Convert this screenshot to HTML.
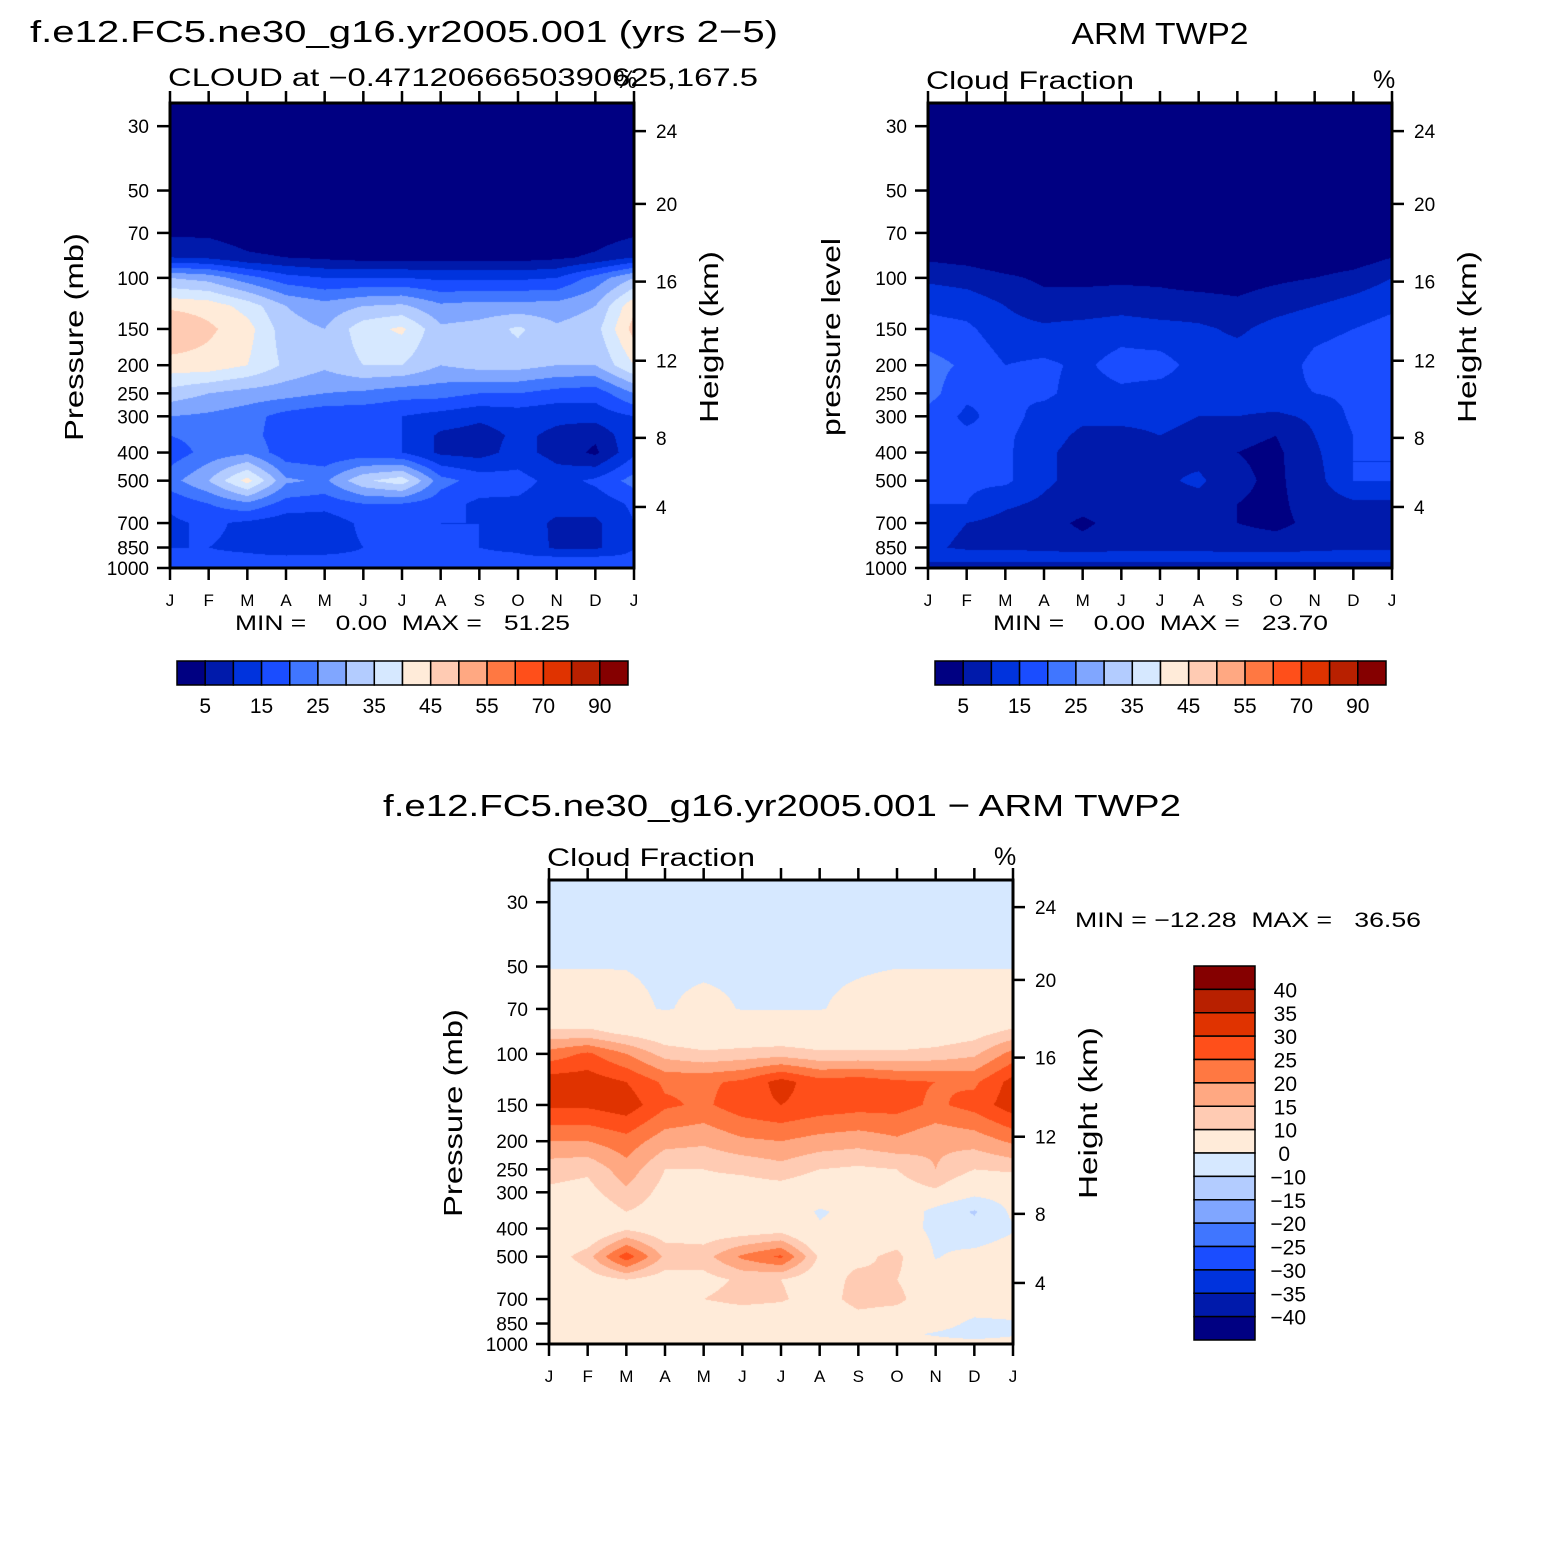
<!DOCTYPE html>
<html><head><meta charset="utf-8">
<style>
html,body{margin:0;padding:0;background:#fff;}
#wrap{position:relative;width:1563px;height:1563px;overflow:hidden;font-family:"Liberation Sans",sans-serif;}
canvas{position:absolute;}
svg{position:absolute;left:0;top:0;}
svg text{white-space:pre;}
</style></head>
<body>
<div id="wrap">
<canvas id="c1" width="464" height="465" style="left:170px;top:103px"></canvas>
<canvas id="c2" width="464" height="465" style="left:928px;top:103px"></canvas>
<canvas id="c3" width="464" height="464" style="left:549px;top:880px"></canvas>
<svg id="s" width="1563" height="1563"></svg>
</div>
<script>
// ---- data ----
const months = ["J","F","M","A","M","J","J","A","S","O","N","D","J"];
const pressures = [30,50,70,85,100,125,150,200,250,300,350,400,500,600,700,850,925,1000];
const pressureTicks = [30,50,70,100,150,200,250,300,400,500,700,850,1000];
const heightTicks = [24,20,16,12,8,4];
const heightTickPressure = [31.2,55.6,103,193,356,616];
const modelData = [
[0,0,0,0,0,0,0,0,0,0,0,0,0],
[0.5,0.5,0.5,0.5,0.5,0.5,0.5,0.5,0.5,0.5,0.5,0.5,0.5],
[4,4,2,1,1,1,1,1,1,1,1,2,4],
[10,9,6,5,4,3,3,3,3,3,4,6,10],
[30,28,22,17,15,15,15,14,14,14,15,22,30],
[44,43,38,30,27,30,31,26,27,27,27,30,44],
[50,46,42,32,30,38,41,31,32,36,31,33,47],
[43,43,40,34,31,35,35,30,32,32,30,30,40],
[33,30,28,27,25,24,22,22,20,20,18,17,25],
[25,24,22,18,16,16,15,13,11,12,11,12,15],
[20,22,22,17,16,16,15,9,8,11,9,6,14],
[17,22,24,17,16,17,15,9,8,12,8,4,14],
[23,30,42,26,24,34,38,22,18,17,13,16,22],
[16,20,24,18,17,20,20,17,14,14,12,12,16],
[14,16,14,12,12,16,16,15,15,13,9,9,15],
[15,15,14,12,13,15,15,15,15,14,9,9,15],
[16,16,16,16,16,16,16,16,16,16,16,16,16],
[18,18,18,18,18,18,18,18,18,18,18,18,18]];
const obsData = [
[0,0,0,0,0,0,0,0,0,0,0,0,0],
[0,0,0,0,0,0,0,0,0,0,0,0,0],
[0.5,0.5,0.5,0.5,0.5,0.5,0.5,0.5,0.5,0.5,0.5,0.5,0.5],
[4,3,1,1,1,1,1,1,1,1,1,2,5],
[9,8,6,4,4,4,4,3,3,4,5,7,10],
[14,13,10,7,7,8,7,7,6,8,10,12,14],
[17,16,12,11,12,13,12,11,9,12,14,15,17],
[22,19,15,16,14,17,17,13,13,13,16,17,20],
[22,16,15,16,13,14,13,12,13,14,15,16,19],
[18,14,17,13,11,11,11,10,10,9,11,16,17],
[17,16,16,12,9,9,10,9,6,5,10,15,16],
[17,16,16,11,8,8,9,8,5,4,9,15,15],
[17,16,16,11,8,8,9,11,6,4,8,15,15],
[15,15,11,9,7,8,8,8,5,4,7,9,9],
[12,10,8,7,4,7,5,7,5,4,6,8,8],
[11,9,9,8,7,8,8,8,7,7,8,9,9],
[14,14,14,14,14,14,14,14,14,14,14,14,14],
[4,4,4,4,4,4,4,4,4,4,4,4,4]];
const diffData = [
[-1,-1,-1,-1,-1,-1,-1,-1,-1,-1,-1,-1,-1],
[-0.1,-0.1,-0.1,-0.6,-0.6,-0.6,-0.6,-0.6,-0.4,-0.1,-0.1,-0.1,-0.1],
[2,2,1,-0.3,1,-0.2,-0.2,-0.2,1,2,2,2,2],
[12,12,9,6,5,5,5,5,5,5,6,8,12],
[22,26,20,13,11,12,13,11,11,11,12,14,22],
[33,33,30,24,24,26,32,27,28,26,25,24,32],
[31,31,33,26,24,28,30,28,27,27,24,27,33],
[20,20,23,17,16,19,20,18,17,19,16,17,21],
[12,11,18,10,10,11,13,10,9,10,15,10,11],
[9,8,14,8,8,7,7,5,4,7,9,3,4],
[5,5,10,7,7,6,6,-1,3,7,-3,-11,2],
[3,3,9,6,6,6,7,1,3,4,-2,-7,-1],
[6,13,28,14,13,21,26,9,8,12,-0.5,3,6],
[4,7,10,7,8,11,10,6,12,10,4,4,4],
[3,4,5,7,10,12,11,6,13,12,4,3,3],
[2,2,2,3,4,4,3,3,6,4,2,-1,-0.5],
[1,1,1,1,1,1,1,1,1,1,-0.5,-2,-0.5],
[2,2,2,2,2,2,2,2,2,2,2,2,2]];
const cloudLevels = [5,10,15,20,25,30,35,40,45,50,55,60,70,80,90];
const cloudLabels = ["5","15","25","35","45","55","70","90"];
const diffLevels = [-40,-35,-30,-25,-20,-15,-10,0,10,15,20,25,30,35,40];
const diffLabels = ["40","35","30","25","20","15","10","0","\u221210","\u221215","\u221220","\u221225","\u221230","\u221235","\u221240"];
const palette = ['#000082','#001aab','#0033dd','#1a4dff','#4076ff','#80a6ff','#b3ccff','#d6e8ff','#ffebd9','#ffcbb3','#ffa882','#ff7842','#ff4f1a','#e03300','#b82000','#850000'];

// ---- helpers ----
const NS="http://www.w3.org/2000/svg";
const svg=document.getElementById('s');
function el(tag,attrs,parent){const e=document.createElementNS(NS,tag);for(const k in attrs)e.setAttribute(k,attrs[k]);(parent||svg).appendChild(e);return e;}
function txt(str,x,y,size,anchor,name,extra){const t=el('text',Object.assign({x:x,y:y,'font-size':size,'text-anchor':anchor||'start','font-family':'Liberation Sans, sans-serif',fill:'#000'},extra||{}));t.textContent=str;


return t;}
function hex(c){return [parseInt(c.slice(1,3),16),parseInt(c.slice(3,5),16),parseInt(c.slice(5,7),16)];}
const rgb=palette.map(hex);
function colorIdx(v,levels){let i=0;while(i<levels.length&&v>=levels[i])i++;return i;}

function makeScales(left,top,w,h){
  const bottom=top+h;const k=126;
  return {x:m=>left+m*w/12,y:p=>bottom-k*Math.log(1000/p),left,top,w,h,bottom};
}
function drawField(canvasId,data,levels,sc){
  const cv=document.getElementById(canvasId);const ctx=cv.getContext('2d');
  const W=cv.width,H=cv.height;const img=ctx.createImageData(W,H);
  const lp=pressures.map(p=>sc.y(p)-sc.top);
  for(let py=0;py<H;py++){
    const yy=py+0.5;let r=0;
    while(r<lp.length-2&&lp[r+1]<yy)r++;
    let ty=(yy-lp[r])/(lp[r+1]-lp[r]);ty=Math.max(0,Math.min(1,ty));
    for(let px=0;px<W;px++){
      const mx=(px+0.5)/W*12;let c=Math.min(11,Math.floor(mx));const tx=mx-c;
      const v=(data[r][c]*(1-tx)+data[r][c+1]*tx)*(1-ty)+(data[r+1][c]*(1-tx)+data[r+1][c+1]*tx)*ty;
      const col=rgb[colorIdx(v,levels)];const o=(py*W+px)*4;
      img.data[o]=col[0];img.data[o+1]=col[1];img.data[o+2]=col[2];img.data[o+3]=255;
    }
  }
  ctx.putImageData(img,0,0);
}
function drawAxes(sc,prefix){
  const g=el('g',{});
  
  
  el('rect',{x:sc.left,y:sc.top,width:sc.w,height:sc.h,fill:'none',stroke:'#000','stroke-width':3},g);
  months.forEach((m,i)=>{
    const x=sc.x(i);
    el('line',{x1:x,y1:sc.bottom,x2:x,y2:sc.bottom+12,stroke:'#000','stroke-width':2.5},g);
    el('line',{x1:x,y1:sc.top,x2:x,y2:sc.top-12,stroke:'#000','stroke-width':2.5},g);
    txt(m,x,sc.bottom+38,17,'middle',prefix+'-month-label');
  });
  pressureTicks.forEach(p=>{
    const y=sc.y(p);
    el('line',{x1:sc.left,y1:y,x2:sc.left-13,y2:y,stroke:'#000','stroke-width':2.5},g);
    txt(String(p),sc.left-21,y+7,19,'end',prefix+'-pressure-tick-label');
  });
  heightTicks.forEach((h,i)=>{
    const y=sc.y(heightTickPressure[i]);
    el('line',{x1:sc.x(12),y1:y,x2:sc.x(12)+12,y2:y,stroke:'#000','stroke-width':2.5},g);
    txt(String(h),sc.x(12)+22,y+7,19,'start',prefix+'-height-tick-label');
  });
}
function rotText(str,cx,cy,size,len,name){
  return txt(str,cx,cy,size,'middle',name,{transform:`rotate(-90 ${cx} ${cy})`,textLength:len,lengthAdjust:'spacingAndGlyphs'});
}

// ---- panels ----
const s1=makeScales(170,103,464,465);
const s2=makeScales(928,103,464,465);
const s3=makeScales(549,880,464,464);
drawField('c1',modelData,cloudLevels,s1);
drawField('c2',obsData,cloudLevels,s2);
drawField('c3',diffData,diffLevels,s3);
drawAxes(s1,'model');drawAxes(s2,'obs');drawAxes(s3,'diff');

// titles
txt("f.e12.FC5.ne30_g16.yr2005.001 (yrs 2\u22125)",30,42,31,'start','model-title',{textLength:748,lengthAdjust:'spacingAndGlyphs'});
txt("CLOUD at \u22120.4712066650390625,167.5",168,86,25,'start','model-subtitle',{textLength:590,lengthAdjust:'spacingAndGlyphs'});
txt("%",615,88,25,'start','model-units');
txt("ARM TWP2",1160,44,31,'middle','obs-title',{textLength:177,lengthAdjust:'spacingAndGlyphs'});
txt("Cloud Fraction",926,89,25,'start','obs-subtitle',{textLength:208,lengthAdjust:'spacingAndGlyphs'});
txt("%",1373,88,25,'start','obs-units');
txt("f.e12.FC5.ne30_g16.yr2005.001 \u2212 ARM TWP2",782,816,31,'middle','diff-title',{textLength:798,lengthAdjust:'spacingAndGlyphs'});
txt("Cloud Fraction",547,866,25,'start','diff-subtitle',{textLength:208,lengthAdjust:'spacingAndGlyphs'});
txt("%",994,865,25,'start','diff-units');

rotText("Pressure (mb)",83,337,26,208,'model-y-axis-title');
rotText("Height (km)",718,337,26,172,'model-y2-axis-title');
rotText("pressure level",840,337,26,198,'obs-y-axis-title');
rotText("Height (km)",1476,337,26,172,'obs-y2-axis-title');
rotText("Pressure (mb)",462,1113,26,208,'diff-y-axis-title');
rotText("Height (km)",1097,1113,26,172,'diff-y2-axis-title');

txt("MIN =    0.00  MAX =   51.25",235,630,21,'start','model-min-max',{textLength:335,lengthAdjust:'spacingAndGlyphs'});
txt("MIN =    0.00  MAX =   23.70",993,630,21,'start','obs-min-max',{textLength:335,lengthAdjust:'spacingAndGlyphs'});
txt("MIN = \u221212.28  MAX =   36.56",1075,927,21,'start','diff-min-max',{textLength:346,lengthAdjust:'spacingAndGlyphs'});

// horizontal colorbars
function hBar(x0,prefix){
  const y0=661,w=451,h=24,n=palette.length,bw=w/n;
  palette.forEach((c,i)=>{
    const r=el('rect',{x:x0+i*bw,y:y0,width:bw,height:h,fill:c,stroke:'#000','stroke-width':1.5});
    
    
  });
  cloudLabels.forEach((l,j)=>{
    txt(l,x0+(2*j+1)*bw,713,21,'middle',prefix+'-colorbar-label');
  });
}
hBar(177,'model');hBar(935,'obs');
// vertical colorbar
(function(){
  const x0=1194,y0=966,w=61,bh=(1340-966)/16;
  for(let i=0;i<16;i++){
    const r=el('rect',{x:x0,y:y0+i*bh,width:w,height:bh,fill:palette[15-i],stroke:'#000','stroke-width':1.5});
    
    
  }
  diffLabels.forEach((l,j)=>{
    const y=y0+(j+1)*bh;
    const t=txt(l,1297,y+8,21,'end','diff-colorbar-label');
    if(l==="0"){t.setAttribute('x',1290);}
    if(l.startsWith("\u2212")){t.setAttribute('x',1306);}
  });
})();
</script>
</body></html>
